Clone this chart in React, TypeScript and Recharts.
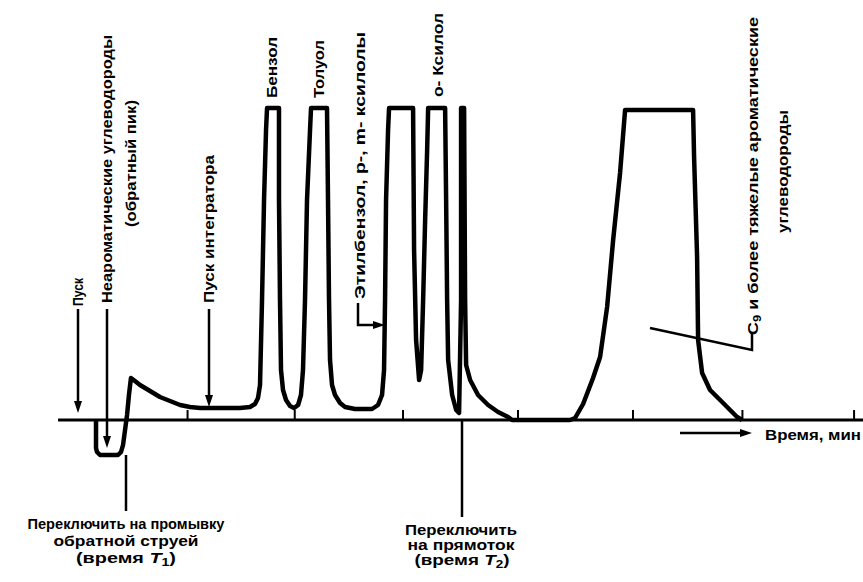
import React from 'react';
import { ComposedChart, Line, XAxis, YAxis, ReferenceLine, Customized } from 'recharts';

// detector signal, time in minutes, response in arbitrary units (0 = baseline)
const time = [
  0.18, 0.18, 0.189, 0.216, 0.377, 0.404, 0.422, 0.44, 0.458, 0.475, 0.493, 0.529, 0.574, 0.664,
  0.753, 0.843, 0.933, 1.022, 1.112, 1.47, 1.559, 1.604, 1.631, 1.649, 1.667, 1.685, 1.703, 1.712,
  1.819, 1.819, 1.828, 1.837, 1.855, 1.882, 1.918, 1.954, 1.99, 2.016, 2.034, 2.052, 2.07, 2.097,
  2.106, 2.249, 2.258, 2.267, 2.276, 2.294, 2.321, 2.366, 2.411, 2.5, 2.652, 2.706, 2.742, 2.76,
  2.769, 2.778, 2.796, 2.805, 3.02, 3.029, 3.047, 3.074, 3.092, 3.11, 3.128, 3.146, 3.155, 3.307,
  3.316, 3.325, 3.334, 3.37, 3.406, 3.432, 3.45, 3.45, 3.477, 3.486, 3.495, 3.531, 3.602, 3.692,
  3.781, 3.871, 3.907, 4.426, 4.471, 4.543, 4.632, 4.695, 4.758, 4.812, 4.874, 4.919, 5.528, 5.537,
  5.564, 5.573, 5.609, 5.68, 5.797, 5.922, 5.967,
];
const signal = [
  0, -28, -32, -35, -35, -32, -25, -10, 5, 25, 42, 39, 35, 29,
  23, 19, 15, 13, 12, 12, 13, 16, 22, 35, 120, 220, 290, 312,
  312, 220, 120, 50, 30, 20, 14, 12, 15, 25, 50, 120, 220, 290,
  312, 312, 220, 120, 60, 35, 25, 17, 13, 11, 11, 15, 25, 50,
  120, 220, 290, 312, 312, 170, 80, 40, 50, 120, 200, 270, 312, 312,
  220, 120, 60, 25, 10, 7, 120, 312, 312, 120, 55, 40, 25, 15,
  8, 3, 0, 0, 2, 16, 42, 63, 113, 180, 247, 310, 310, 263,
  163, 80, 47, 30, 17, 3, 0,
];
const tickTimes = [1.0, 1.96, 2.93, 3.96, 4.99, 5.97, 6.97];

const data = time.map((t, i) => ({ t, v: signal[i] }));

const FONT = "'Liberation Sans', Arial, sans-serif";

const VText = ({ x, y, len, children }: any) => (
  <text
    x={x}
    y={y}
    transform={`rotate(-90 ${x} ${y})`}
    fontFamily={FONT}
    fontWeight={700}
    fontSize={14}
    dominantBaseline="central"
    textLength={len}
    lengthAdjust="spacingAndGlyphs"
  >
    {children}
  </text>
);

const HText = ({ x, y, len, children, anchor = 'middle' }: any) => (
  <text
    x={x}
    y={y}
    fontFamily={FONT}
    fontWeight={700}
    fontSize={14}
    textAnchor={anchor}
    dominantBaseline="central"
    textLength={len}
    lengthAdjust="spacingAndGlyphs"
  >
    {children}
  </text>
);

const down = (x: number, y: number) => `${x - 4},${y - 12} ${x + 4},${y - 12} ${x},${y}`;
const right = (x: number, y: number) => `${x - 12},${y - 4} ${x - 12},${y + 4} ${x},${y}`;

const Annotations = () => (
  <g stroke="none" fill="#000">
    <g stroke="#000" strokeWidth={2.5} fill="none">
      <line x1={78} y1={309} x2={78} y2={405} />
      <line x1={107} y1={309} x2={107} y2={440} />
      <line x1={209} y1={309} x2={209} y2={398} />
      <polyline points="358,303 358,325 376,325" />
      <polyline points="650,328 752,350 752,333" />
      <line x1={126} y1={455} x2={126} y2={511} />
      <line x1={462} y1={420} x2={462} y2={517} />
      <line x1={680} y1={433} x2={742} y2={433} />
    </g>
    <polygon points={down(78, 413)} />
    <polygon points={down(107, 448)} />
    <polygon points={down(209, 407)} />
    <polygon points={right(385, 325)} />
    <polygon points={right(752, 433)} />

    <VText x={78} y={306} len={28}>Пуск</VText>
    <VText x={107} y={303} len={268}>Неароматические углеводороды</VText>
    <VText x={131} y={227} len={127}>(обратный пик)</VText>
    <VText x={209} y={303} len={148}>Пуск интегратора</VText>
    <VText x={272} y={98} len={61}>Бензол</VText>
    <VText x={319} y={98} len={58}>Толуол</VText>
    <VText x={360} y={299} len={267}>Этилбензол, p-, m- ксилолы</VText>
    <VText x={438} y={97} len={84}>o- Ксилол</VText>
    <VText x={753} y={335} len={318}>
      C<tspan fontSize={10} dy={4}>9</tspan>
      <tspan dy={-4}> и более тяжелые ароматические</tspan>
    </VText>
    <VText x={783} y={233} len={123}>углеводороды</VText>

    <HText x={765} y={435} len={96} anchor="start">Время, мин</HText>

    <HText x={126} y={524} len={197}>Переключить на промывку</HText>
    <HText x={126} y={541} len={145}>обратной струей</HText>
    <HText x={126} y={558} len={100}>
      (время <tspan fontStyle="italic">T</tspan>
      <tspan fontSize={10} dy={4}>1</tspan>
      <tspan dy={-4}>)</tspan>
    </HText>

    <HText x={461} y={530} len={112}>Переключить</HText>
    <HText x={461} y={545} len={107}>на прямоток</HText>
    <HText x={462} y={560} len={95}>
      (время <tspan fontStyle="italic">T</tspan>
      <tspan fontSize={10} dy={4}>2</tspan>
      <tspan dy={-4}>)</tspan>
    </HText>
  </g>
);

export default function App() {
  return (
    <div style={{ position: 'absolute', left: 0, top: 0, width: 863, height: 582, background: '#fff' }}>
      <ComposedChart width={863} height={582} data={data} margin={{ top: 0, right: 0, bottom: 0, left: 0 }}>
        <XAxis type="number" dataKey="t" domain={[-0.68, 7.05]} hide allowDataOverflow />
        <YAxis type="number" domain={[-162, 420]} hide allowDataOverflow />
        <ReferenceLine
          segment={[{ x: -0.16, y: 0 }, { x: 7.05, y: 0 }]}
          stroke="#000"
          strokeWidth={3}
          ifOverflow="visible"
        />
        {tickTimes.map((t) => (
          <ReferenceLine
            key={t}
            segment={[{ x: t, y: 0 }, { x: t, y: 10 }]}
            stroke="#000"
            strokeWidth={2}
            ifOverflow="visible"
          />
        ))}
        <Line
          type="linear"
          dataKey="v"
          stroke="#000"
          strokeWidth={4.5}
          strokeLinejoin="round"
          dot={false}
          activeDot={false}
          isAnimationActive={false}
        />
        <Customized component={<Annotations />} />
      </ComposedChart>
    </div>
  );
}
